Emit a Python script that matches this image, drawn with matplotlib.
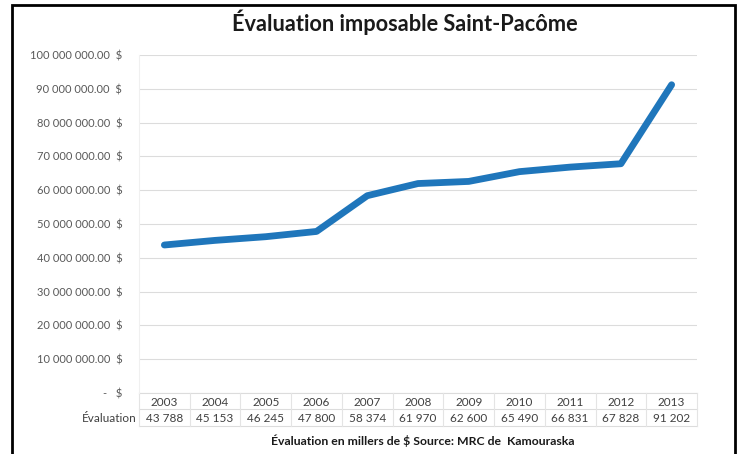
import numpy as np
import matplotlib.pyplot as plt
from matplotlib.patches import Rectangle
from matplotlib.transforms import blended_transform_factory

plt.rcParams['font.family'] = ['Lato', 'DejaVu Sans']

years = ['2003', '2004', '2005', '2006', '2007', '2008', '2009', '2010', '2011', '2012', '2013']
evaluation = [43788, 45153, 46245, 47800, 58374, 61970, 62600, 65490, 66831, 67828, 91202]  # milliers de $
yticks = [0, 10e6, 20e6, 30e6, 40e6, 50e6, 60e6, 70e6, 80e6, 90e6, 100e6]

W, H = 742, 454
fig = plt.figure(figsize=(W / 100, H / 100), dpi=100)
ax = fig.add_axes([139 / W, 1 - 393 / H, (697 - 139) / W, (393 - 55) / H])

x = np.arange(len(years))
y = np.array(evaluation) * 1000
ax.plot(x, y, color='#1f76bb', lw=4.9, solid_capstyle='round', solid_joinstyle='round', zorder=3)

ax.set_xlim(-0.5, len(years) - 0.5)
ax.set_ylim(0, 100e6)
ax.set_yticks(yticks)


def fmt(v):
    if v == 0:
        return '-   $'
    return f'{v:,.2f}  $'.replace(',', ' ')


ax.set_yticklabels([fmt(v) for v in yticks])
ax.tick_params(axis='y', length=0, pad=12, labelsize=8, labelcolor='#595959')
ax.set_xticks([])
ax.grid(axis='y', color='#dcdcdc', lw=0.8)
for s in ['top', 'right', 'bottom']:
    ax.spines[s].set_visible(False)
ax.spines['left'].set_color('#f0f0f0')

# data table under the axis
tr = blended_transform_factory(ax.transData, ax.transAxes)
hpx = 393 - 55
y_year = -10 / hpx
y_val = -25 / hpx
for i, (yr, v) in enumerate(zip(years, evaluation)):
    ax.text(i, y_year, yr, transform=tr, ha='center', va='center', fontsize=8.5, color='#404040', clip_on=False)
    ax.text(i, y_val, f'{v:,}'.replace(',', ' '), transform=tr, ha='center', va='center', fontsize=8.5,
            color='#404040', clip_on=False)
ax.text(-0.55, y_val, 'Évaluation', transform=tr, ha='right', va='center', fontsize=8.5, color='#404040',
        clip_on=False)
for yl in [0, -16 / hpx, -33 / hpx]:
    ax.plot([-0.5, len(years) - 0.5], [yl, yl], transform=tr, color='#dcdcdc', lw=0.8, clip_on=False)
for i in range(len(years) + 1):
    ax.plot([i - 0.5, i - 0.5], [0, -33 / hpx], transform=tr, color='#e4e4e4', lw=0.8, clip_on=False)

fig.text(405 / W, 1 - 22 / H, 'Évaluation imposable Saint-Pacôme', ha='center', va='center',
         fontsize=15.7, fontweight='bold', color='#1a1a1a')
fig.text(423 / W, 1 - 441 / H, 'Évaluation en millers de $ Source: MRC de  Kamouraska', ha='center',
         va='center', fontsize=8.8, fontweight='bold', color='#1a1a1a')

fig.patches.append(Rectangle((12 / W, -0.05), (735 - 12) / W, 1.05 - 5 / H, transform=fig.transFigure,
                             fill=False, ec='black', lw=2))

fig.savefig('out.png', dpi=100)
